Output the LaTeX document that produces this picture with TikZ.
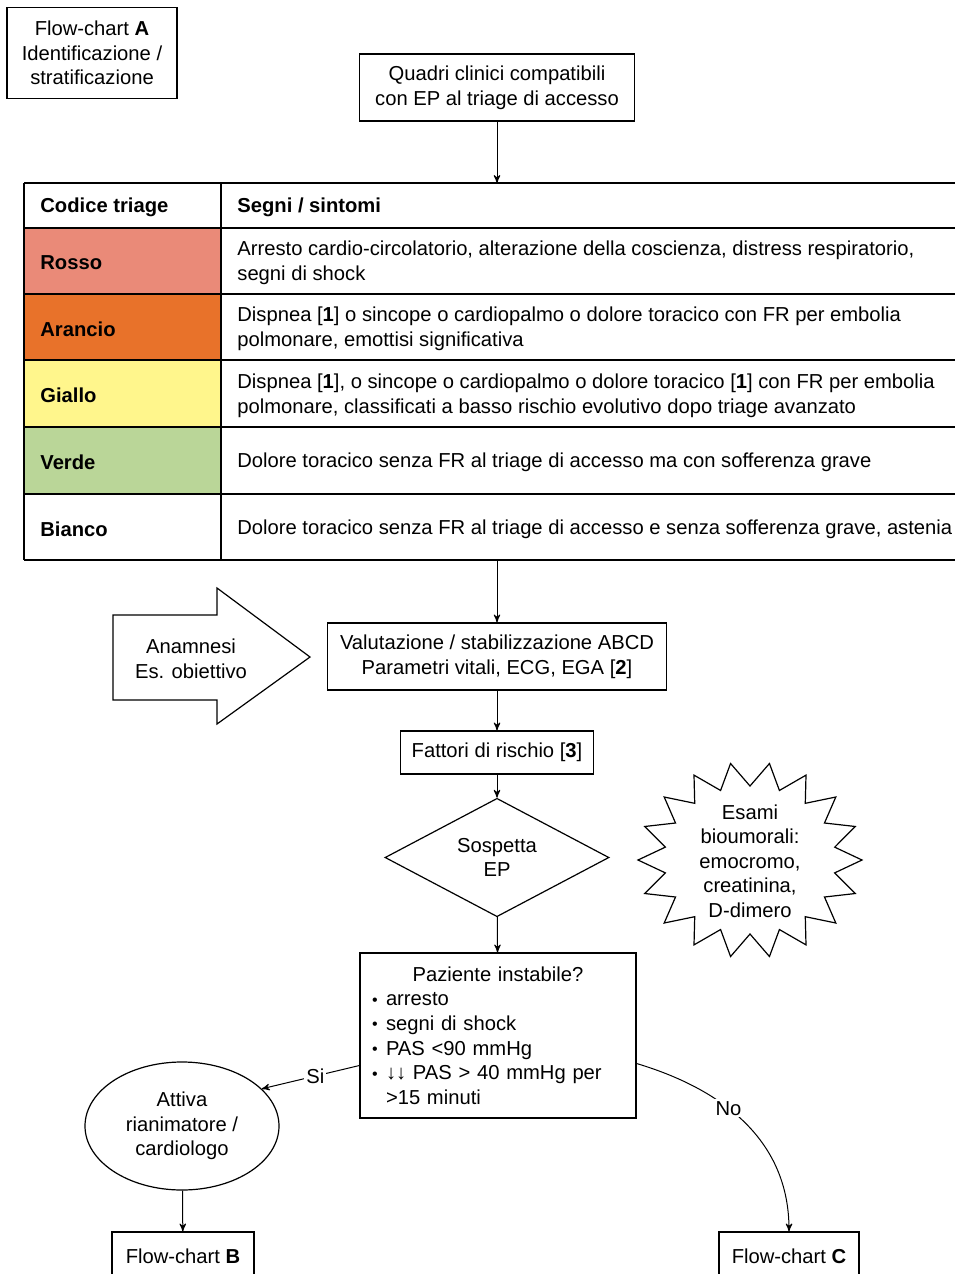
\documentclass[tikz,border=0pt]{standalone}
\usepackage{fontspec}
\setmainfont{Liberation Sans}
\usetikzlibrary{shapes.geometric,arrows,positioning}
\definecolor{rossocol}{RGB}{234,138,120}
\definecolor{aranciocol}{RGB}{232,114,42}
\definecolor{giallocol}{RGB}{255,246,140}
\definecolor{verdecol}{RGB}{186,214,152}
\newcommand{\voce}{\makebox[7pt][l]{\raisebox{0.3pt}{\footnotesize\textbullet}}}

\begin{document}
\begin{tikzpicture}[x=0.5pt,y=-0.5pt,
  every node/.style={font=\fontsize{10.1}{12.3}\selectfont},
  box/.style={draw, line width=0.6pt, align=center, inner sep=0pt},
  flow/.style={->, >=stealth', line width=0.5pt},
  cella/.style={anchor=west, align=left, inner sep=0pt}]

  \useasboundingbox (0,0) rectangle (955,1274);
  \clip (0,0) rectangle (955,1274);

  % Titolo e accesso
  \node[box, minimum width=85pt, minimum height=45.5pt] (fcA) at (92,53) {Flow-chart \textbf{A}\\Identificazione /\\stratificazione};
  \node[box, minimum width=137.5pt, minimum height=33.5pt] (quadri) at (497,87.5) {Quadri clinici compatibili\\con EP al triage di accesso};

  % Tabella codici triage
  \fill[rossocol] (24,228) rectangle (221,294);
  \fill[aranciocol] (24,294) rectangle (221,360);
  \fill[giallocol] (24,360) rectangle (221,427);
  \fill[verdecol] (24,427) rectangle (221,494);
  \foreach \y in {183,228,294,360,427,494,560} {
    \draw[line width=0.6pt] (24,\y) -- (955,\y);
  }
  \draw[line width=0.6pt] (24,183) -- (24,560);
  \draw[line width=0.6pt] (221,183) -- (221,560);
  \coordinate (tabtop) at (497,183);
  \coordinate (tabbot) at (497,560);

  \node[cella] (hcodice) at (40,207) {\textbf{Codice triage}};
  \node[cella] (hsegni) at (237,207) {\textbf{Segni / sintomi}};
  \node[cella] (rosso) at (40,263) {\textbf{Rosso}};
  \node[cella] (trosso) at (237,263) {Arresto cardio-circolatorio, alterazione della coscienza, distress respiratorio,\\segni di shock};
  \node[cella] (arancio) at (40,329) {\textbf{Arancio}};
  \node[cella] (tarancio) at (237,329) {Dispnea [\textbf{1}] o sincope o cardiopalmo o dolore toracico con FR per embolia\\polmonare, emottisi significativa};
  \node[cella] (giallo) at (40,395.5) {\textbf{Giallo}};
  \node[cella] (tgiallo) at (237,395.5) {Dispnea [\textbf{1}], o sincope o cardiopalmo o dolore toracico [\textbf{1}] con FR per embolia\\polmonare, classificati a basso rischio evolutivo dopo triage avanzato};
  \node[cella] (verde) at (40,462.5) {\textbf{Verde}};
  \node[cella] (tverde) at (237,462.5) {Dolore toracico senza FR al triage di accesso ma con sofferenza grave};
  \node[cella] (bianco) at (40,529) {\textbf{Bianco}};
  \node[cella] (tbianco) at (237,529) {Dolore toracico senza FR al triage di accesso e senza sofferenza grave, astenia};

  % Valutazione
  \draw[line width=0.6pt] (113,615) -- (217,615) -- (217,588) -- (310,657) -- (217,724) -- (217,700) -- (113,700) -- cycle;
  \node[align=center] (anamnesi) at (191,659) {Anamnesi\\Es. obiettivo};
  \node[box, minimum width=169.5pt, minimum height=33.5pt] (valut) at (497,656.5) {Valutazione / stabilizzazione ABCD\\Parametri vitali, ECG, EGA [\textbf{2}]};
  \node[box, minimum width=96.5pt, minimum height=21.5pt] (fattori) at (497,752.5) {Fattori di rischio [\textbf{3}]};
  \node[box, diamond, minimum width=112pt, minimum height=45.5pt] (sospetta) at (497,857.5) {Sospetta\\EP};

  % Esami
  \node[align=center] (esami) at (750,861) {Esami\\bioumorali:\\emocromo,\\creatinina,\\D-dimero};
  \draw[line width=0.6pt, shift={(750,860)}] plot[samples at={0,...,35}]
    ({\x*10}:{86+26*(1-mod(\x,2))} and {74+24*(1-mod(\x,2))}) -- cycle;

  % Instabilita
  \node[box, align=left, text width=126pt, inner xsep=6pt, minimum height=82.5pt] (paziente) at (498,1035.5)
    {\makebox[126pt]{Paziente instabile?}\\
     \voce arresto\\
     \voce segni di shock\\
     \voce PAS <90 mmHg\\
     \voce ↓↓ PAS > 40 mmHg per\\
     \hspace*{7pt}>15 minuti};
  \node[box, ellipse, minimum width=97pt, minimum height=64pt] (attiva) at (182,1126) {Attiva\\rianimatore /\\cardiologo};
  \node[box, minimum width=71pt, minimum height=24pt] (fcB) at (183,1256) {Flow-chart \textbf{B}};
  \node[box, minimum width=70pt, minimum height=24pt] (fcC) at (789,1256) {Flow-chart \textbf{C}};

  % Frecce
  \draw[flow] (quadri) -- (tabtop);
  \draw[flow] (tabbot) -- (valut);
  \draw[flow] (valut) -- (fattori);
  \draw[flow] (fattori) -- (sospetta);
  \draw[flow] (sospetta) -- (paziente);
  \draw[flow] ([yshift=-15pt]paziente.west) -- node[pos=0.45, fill=white, inner sep=1pt] {Si} (attiva.25);
  \draw[flow] ([yshift=-14pt]paziente.east) .. controls (725,1090) and (789,1142) .. node[pos=0.4, fill=white, inner sep=1pt] {No} (fcC.north);
  \draw[flow] (attiva) -- (fcB);
\end{tikzpicture}
\end{document}
